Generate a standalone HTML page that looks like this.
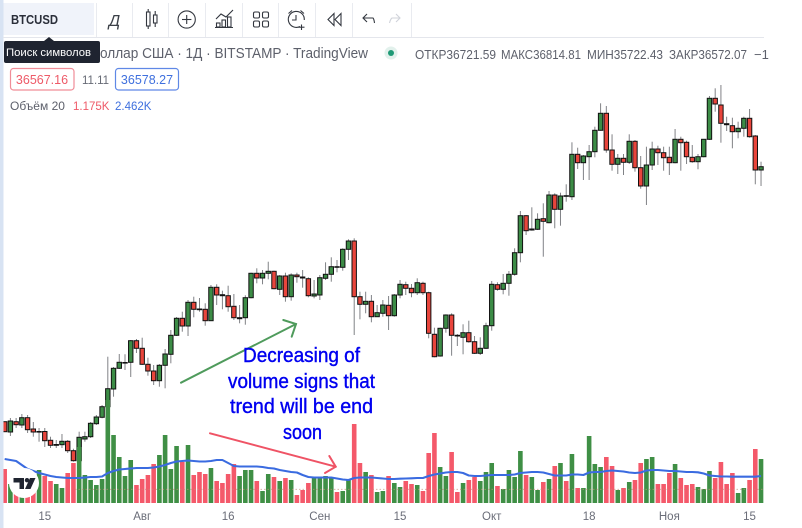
<!DOCTYPE html>
<html lang="ru">
<head>
<meta charset="utf-8">
<title>BTCUSD chart</title>
<style>
html,body{margin:0;padding:0;background:#fff;}
#page{position:relative;width:802px;height:528px;overflow:hidden;background:#fff;font-family:"Liberation Sans","DejaVu Sans",sans-serif;}
#page svg{position:absolute;left:0;top:0;}
text{font-family:"Liberation Sans","DejaVu Sans",sans-serif;}
</style>
</head>
<body>
<div id="page">
<svg id="chart" width="802" height="528" viewBox="0 0 802 528">
  <g id="candles"></g>
  <g id="volumes"></g>
  <line x1="75" y1="489.3" x2="764" y2="489.3" stroke="#c98a7a" stroke-width="0.8" stroke-dasharray="1.5 2" opacity="0.75"/>
  <path id="ma-line" fill="none" stroke="#3a6be0" stroke-width="2.1" stroke-linejoin="round"/>
  <g id="x-axis"></g>
  <rect x="0" y="0" width="3.5" height="528" fill="#d8e3f3"/>

  <g>
    <line x1="3" y1="37.5" x2="764" y2="37.5" stroke="#e4e6ec" stroke-width="1"/>
    <g stroke="#e9ebf0" stroke-width="1">
      <line x1="96.5" y1="3" x2="96.5" y2="37"/>
      <line x1="132.5" y1="3" x2="132.5" y2="37"/>
      <line x1="168.5" y1="3" x2="168.5" y2="37"/>
      <line x1="205.5" y1="3" x2="205.5" y2="37"/>
      <line x1="242.5" y1="3" x2="242.5" y2="37"/>
      <line x1="278.5" y1="3" x2="278.5" y2="37"/>
      <line x1="315.5" y1="3" x2="315.5" y2="37"/>
      <line x1="352.5" y1="3" x2="352.5" y2="37"/>
      <line x1="411.5" y1="3" x2="411.5" y2="37"/>
    </g>
    <rect x="3.5" y="3" width="90.5" height="32" fill="#f0f3fa"/>
    <text x="11" y="24" font-size="12.5" font-weight="700" fill="#2a2e39" textLength="47" lengthAdjust="spacingAndGlyphs">BTCUSD</text>
    <text x="114.5" y="26" font-size="16" font-style="italic" fill="#3c4048" text-anchor="middle">Д</text>
    <g fill="none" stroke="#33373f" stroke-width="1.1">
      <rect x="146.5" y="12" width="3.5" height="14"/><line x1="148.2" y1="9" x2="148.2" y2="12"/><line x1="148.2" y1="26" x2="148.2" y2="29"/>
      <rect x="153.5" y="15" width="3.5" height="8"/><line x1="155.2" y1="11" x2="155.2" y2="15"/><line x1="155.2" y1="23" x2="155.2" y2="27"/>
    </g>
    <g fill="none" stroke="#33373f" stroke-width="1.1">
      <circle cx="186.7" cy="19.5" r="8.6"/><line x1="182" y1="19.5" x2="191.4" y2="19.5"/><line x1="186.7" y1="15" x2="186.7" y2="24"/>
    </g>
    <g fill="none" stroke="#33373f" stroke-width="1.1">
      <polyline points="216,19 221,14 226,17 233,10"/>
      <rect x="216.5" y="23" width="3.5" height="4"/><rect x="222" y="20" width="3.5" height="7"/><rect x="227.5" y="17" width="3.5" height="10"/>
      <line x1="215" y1="27.5" x2="233" y2="27.5"/>
    </g>
    <g fill="none" stroke="#33373f" stroke-width="1.1">
      <rect x="253.5" y="12" width="6" height="6" rx="1.5"/><rect x="262.5" y="12" width="6" height="6" rx="1.5"/>
      <rect x="253.5" y="21" width="6" height="6" rx="1.5"/><rect x="262.5" y="21" width="6" height="6" rx="1.5"/>
    </g>
    <g fill="none" stroke="#33373f" stroke-width="1.1">
      <path d="M300 26.5 A8 8 0 1 1 304.3 20"/><polyline points="296,15 296,20 292,20"/>
      <path d="M288.5 13.5 L292 10.5 M304 13.5 L300.5 10.5"/>
      <line x1="301.5" y1="24.5" x2="301.5" y2="30"/><line x1="298.5" y1="27.2" x2="304.5" y2="27.2"/>
    </g>
    <g fill="none" stroke="#33373f" stroke-width="1.1">
      <polygon points="334,13.5 328,19.5 334,25.5"/><polygon points="341,13.5 335,19.5 341,25.5"/>
    </g>
    <g fill="none" stroke="#33373f" stroke-width="1.1">
      <path d="M363 18 L373 18 Q374 19 374.5 23"/><polyline points="367,14 363,18 367,22"/>
    </g>
    <g fill="none" stroke="#d0d3da" stroke-width="1.1">
      <path d="M399.5 18 L392 18 Q390.5 19 389.5 23"/><polyline points="396,14 400,18 396,22"/>
    </g>
  </g>

  <g>
    <text x="100" y="58" font-size="15" fill="#5d606b" textLength="268" lengthAdjust="spacingAndGlyphs">оллар США · 1Д · BITSTAMP · TradingView</text>
    <circle cx="391" cy="53" r="6.5" fill="#e2f1ec"/>
    <circle cx="391" cy="53" r="3" fill="#1f9a76"/>
    <g font-size="13" fill="#5d606b">
      <text x="415" y="59" textLength="81" lengthAdjust="spacingAndGlyphs">ОТКР36721.59</text>
      <text x="501" y="59" textLength="80" lengthAdjust="spacingAndGlyphs">МАКС36814.81</text>
      <text x="587" y="59" textLength="76" lengthAdjust="spacingAndGlyphs">МИН35722.43</text>
      <text x="669" y="59" textLength="78" lengthAdjust="spacingAndGlyphs">ЗАКР36572.07</text>
      <text x="754" y="59">−1</text>
    </g>
    <rect x="10.5" y="68.5" width="63.5" height="21.5" rx="3" fill="#fff" stroke="#f08d98" stroke-width="1.2"/>
    <text x="42" y="84" font-size="12.5" fill="#ee5a68" text-anchor="middle">36567.16</text>
    <text x="82" y="84" font-size="11.5" fill="#666a75">11.11</text>
    <rect x="115.5" y="68.5" width="63" height="21.5" rx="3" fill="#fff" stroke="#5f88e6" stroke-width="1.2"/>
    <text x="147" y="84" font-size="12.5" fill="#3f70de" text-anchor="middle">36578.27</text>
    <text x="10" y="110" font-size="12" fill="#5d606b">Объём 20</text>
    <text x="73" y="110" font-size="11.5" fill="#ee5a68">1.175K</text>
    <text x="115" y="110" font-size="11.5" fill="#3f70de">2.462K</text>
  </g>

  <g>
    <polygon points="44,41 49,37 54,41" fill="#1f2430"/>
    <rect x="4" y="41" width="96" height="22" rx="2" fill="#1f2430"/>
    <text x="6" y="56" font-size="11" fill="#fff" textLength="85" lengthAdjust="spacingAndGlyphs">Поиск символов</text>
  </g>

  <g fill="none" stroke="#4f9b5c" stroke-width="2" stroke-linecap="round">
    <line x1="181" y1="382.7" x2="296" y2="324"/>
    <polyline points="283.3,320 296,324 291.7,336.7"/>
  </g>
  <g fill="none" stroke="#ef5365" stroke-width="2" stroke-linecap="round">
    <line x1="210" y1="433.3" x2="335.7" y2="466.7"/>
    <polyline points="329.3,456 335.7,466.7 325,473"/>
  </g>
  <g font-size="20" fill="#0000f0" stroke="#0000f0" stroke-width="0.4">
    <text x="243" y="362" textLength="117" lengthAdjust="spacingAndGlyphs">Decreasing of</text>
    <text x="228" y="388" textLength="147" lengthAdjust="spacingAndGlyphs">volume signs that</text>
    <text x="230" y="413" textLength="143" lengthAdjust="spacingAndGlyphs">trend will be end</text>
    <text x="283" y="439" textLength="39" lengthAdjust="spacingAndGlyphs">soon</text>
  </g>

  <g>
    <circle cx="24" cy="483" r="15" fill="#fff"/>
    <path d="M13.5 478 H24 V489 H19.5 V482.5 H13.5 Z" fill="#1f2430"/>
    <circle cx="27" cy="480.2" r="2.2" fill="#1f2430"/>
    <path d="M30 478 H35.5 L30.5 489 H25 Z" fill="#1f2430"/>
  </g>
</svg>
</div>

<script>
const opens = [35830,34800,35830,35500,36230,35100,34800,34850,33970,33470,33530,33870,32930,31930,34100,34330,35630,36270,37330,39100,41170,41720,41770,43930,43170,41570,40900,39930,41470,42570,44470,46170,45400,47770,47100,47070,45930,49270,48530,48430,47370,46130,46230,48230,50670,50200,50670,50870,49070,50400,48330,50500,50300,50130,48400,48500,50170,50570,51330,51270,53070,53900,48330,47570,47870,46330,46670,47470,46430,48500,49530,49170,48730,49670,48730,44570,42400,45170,46500,44470,44270,44730,43830,42670,43170,45430,49530,49070,49670,50570,52730,56430,55000,55070,56130,55730,58500,57070,58430,58330,62570,61730,62330,62830,64970,66670,63000,61570,62170,61770,63870,61230,59400,61500,63100,62730,62270,61730,64070,63770,62270,61830,62330,64070,68170,67500,65630,65430,64830,65170,66170,64400,61000];
const highs = [35830,36200,36200,36600,36500,35800,35200,35200,34330,34000,34600,34000,33130,34830,34830,35800,36500,37500,42330,41300,42600,42570,44000,44100,44230,42230,41500,41600,43100,45000,46300,46830,48000,48330,48200,47670,49500,49570,48930,49430,48600,47500,48470,50730,51170,51000,51830,50930,50500,50730,50670,50730,51000,50270,50000,50500,51770,52270,52000,53170,54070,54170,48830,48830,48500,47500,48000,48400,48600,50000,49830,49600,50170,49830,48830,45230,45230,46570,46670,44600,45570,45930,44400,44270,45730,49900,49770,50600,50900,53170,56900,56500,57270,56670,57670,58900,58670,58730,59570,63770,63230,62500,63500,65330,67670,67400,64570,62600,62600,64570,64000,62400,63330,63830,63430,63330,63330,65100,64330,63930,63500,62600,64070,68400,69170,69500,66330,66230,65830,66330,67100,64500,61830];
const lows = [34830,34400,35200,35200,34700,34330,33830,33300,33200,33200,33200,32700,31830,31800,33830,34200,35500,36170,37000,38330,41100,41000,40300,42700,41500,40430,39500,39330,39170,41670,44400,44830,44400,46270,46830,45430,45900,47500,47070,46830,46000,45670,45530,48170,49670,49570,50070,49070,48500,47830,47930,49730,49230,48270,48170,48000,50000,49830,50770,50930,52000,44500,46070,46670,45770,46330,46330,45000,46330,48170,48500,48270,48500,48500,44170,42270,42330,44730,42430,43400,42570,43730,42600,42500,43100,44930,48930,48570,48430,50430,51770,54500,54930,55000,52330,55670,55170,55430,57830,58000,61100,60000,60000,62270,64930,62730,60930,60600,60500,61600,60830,59130,57500,61000,61500,60930,60500,61670,60930,61600,61730,61070,62270,64000,66830,63730,64900,63170,64170,64330,64230,59570,59400];
const closes = [34830,35900,35530,36230,35030,34800,34850,33930,33470,33550,33870,32930,31930,34270,34330,35670,36300,37330,39130,41170,41770,41750,43930,43170,41570,40900,39930,41470,42600,44470,46170,45400,47770,47070,47030,45930,49270,48500,48430,47330,46230,46230,48230,50670,50200,50670,50870,49130,50400,48330,50500,50330,50200,48430,48600,50230,50570,51330,51270,53070,53900,48330,47570,47870,46330,46730,47500,46430,48500,49570,49170,48730,49730,48730,44670,42330,45170,46500,44470,44400,44730,43830,42670,43170,45430,49570,49070,49670,50570,52730,56430,54930,55100,56070,55870,58500,57070,58400,58370,62570,61730,62400,62830,64970,66670,63000,61570,62170,61770,63870,61230,59400,61500,63100,62730,62230,61730,64070,63730,62330,61830,62330,64070,68170,67600,65670,65530,64830,65170,66170,64330,61000,61330];
const volumes = [3.4,1.9,1.0,1.2,1.4,1.6,3.3,2.7,2.2,1.9,1.5,3.0,4.0,5.6,2.8,2.3,1.8,2.4,10.3,6.8,4.6,2.7,4.3,1.8,2.4,2.8,3.9,4.8,6.8,3.4,5.7,4.1,5.8,2.8,3.1,2.9,3.5,2.2,2.0,2.9,3.9,2.7,3.3,3.3,2.2,1.2,2.9,2.6,2.2,2.5,2.3,0.8,1.3,2.0,2.6,2.6,2.7,2.6,1.1,1.2,2.4,7.9,4.0,3.1,2.8,1.1,1.2,2.7,2.0,1.6,2.2,1.9,1.8,1.2,5.0,7.0,3.6,2.7,5.1,1.1,2.0,2.3,2.6,2.2,3.1,4.0,1.7,1.4,3.3,2.6,5.2,2.8,2.6,1.3,2.1,2.4,3.7,4.0,2.2,4.9,1.5,1.5,6.7,3.9,3.6,4.6,3.7,1.3,1.5,2.1,2.3,4.0,4.4,4.6,1.9,1.9,3.0,3.9,2.5,1.8,1.9,1.6,1.4,3.2,2.5,4.1,1.9,3.0,1.0,1.5,2.3,5.4,4.4];
const volumeAverage = [4.4,4.3,4.2,3.8,3.4,3.2,3.0,2.85,2.7,2.6,2.55,2.5,2.5,2.5,2.55,2.6,2.6,2.65,3.0,3.2,3.35,3.4,3.45,3.5,3.5,3.5,3.55,3.65,3.8,4.0,4.15,4.2,4.25,4.2,4.15,4.15,4.2,4.3,4.3,4.0,3.7,3.65,3.65,3.65,3.65,3.6,3.5,3.45,3.3,3.2,3.1,3.05,2.8,2.6,2.55,2.55,2.55,2.55,2.45,2.35,2.3,2.5,2.55,2.55,2.55,2.5,2.45,2.4,2.4,2.43,2.45,2.47,2.5,2.5,2.7,2.85,2.95,3.05,3.1,3.1,3.0,2.75,2.7,2.7,2.75,2.8,2.8,2.8,2.8,2.85,3.0,3.05,3.1,3.1,3.05,2.9,2.75,2.75,2.75,2.85,2.85,2.8,3.05,3.1,3.1,3.2,3.25,3.2,3.15,3.05,3.0,3.05,3.25,3.3,3.3,3.25,3.2,3.2,3.15,3.1,3.1,3.07,2.95,2.75,2.7,2.65,2.65,2.63,2.63,2.63,2.63,2.63,2.7];
const tickLabels = ["15","Авг","16","Сен","15","Окт","18","Ноя","15"];
const tickBars = [7,24,39,55,69,85,102,116,130];

const NS = "http://www.w3.org/2000/svg";
const xBar = i => 4.67 + 5.73 * i;
const yPrice = p => (78000 - p) / 100;
const yVolume = v => 503 - v * 10;

const candleLayer = document.getElementById("candles");
const volumeLayer = document.getElementById("volumes");
const axisLayer = document.getElementById("x-axis");

function make(tag, attrs) {
  const el = document.createElementNS(NS, tag);
  for (const k in attrs) el.setAttribute(k, attrs[k]);
  return el;
}

opens.forEach((o, i) => {
  const c = closes[i];
  const up = c >= o;
  const x = xBar(i);
  const top = yPrice(Math.max(o, c));
  const bot = yPrice(Math.min(o, c));
  const group = make("g", {});
  
  
  group.appendChild(make("line", {x1: x, x2: x, y1: yPrice(highs[i]), y2: yPrice(lows[i]), stroke: "#808286", "stroke-width": 1}));
  group.appendChild(make("rect", {x: x - 2.2, y: top, width: 4.4, height: Math.max(bot - top, 0.6), fill: up ? "#3c8c46" : "#e8453c", stroke: "#111", "stroke-width": 1}));
  candleLayer.appendChild(group);
});

volumes.forEach((v, i) => {
  const bar = make("rect", {x: xBar(i) - 2.3, y: yVolume(v), width: 4.6, height: 503 - yVolume(v), fill: closes[i] >= opens[i] ? "#3f8f45" : "#f4596a"});
  
  
  volumeLayer.appendChild(bar);
});

document.getElementById("ma-line").setAttribute("d", volumeAverage.map((v, i) => (i ? "L" : "M") + xBar(i).toFixed(2) + " " + yVolume(v).toFixed(2)).join(" "));

tickLabels.forEach((label, i) => {
  const t = make("text", {x: xBar(tickBars[i]), y: 520, "font-size": 11.5, fill: "#6a6d78", "text-anchor": "middle"});
  
  
  t.textContent = label;
  axisLayer.appendChild(t);
});
</script>
</body>
</html>
